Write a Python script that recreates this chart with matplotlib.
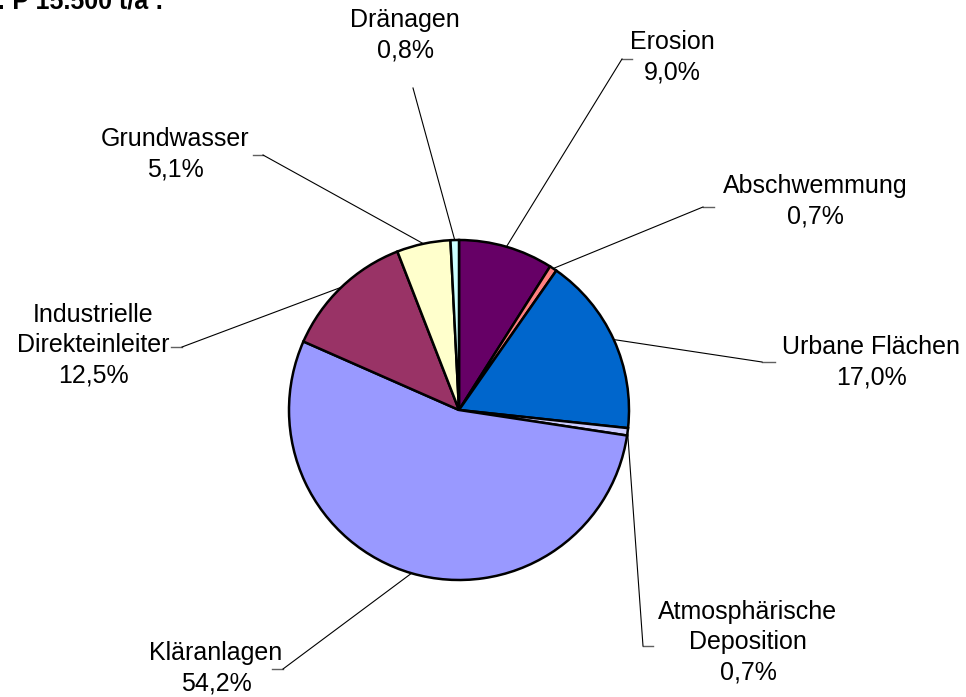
import matplotlib.pyplot as plt
import numpy as np

plt.rcParams['font.family'] = ['Liberation Sans', 'DejaVu Sans']

W, H = 966, 697

labels = ['Erosion', 'Abschwemmung', 'Urbane Flächen', 'Atmosphärische\nDeposition',
          'Kläranlagen', 'Industrielle\nDirekteinleiter', 'Grundwasser', 'Dränagen']
values = [9.0, 0.7, 17.0, 0.7, 54.2, 12.5, 5.1, 0.8]
colors = ['#660066', '#FF8080', '#0066CC', '#CCCCFF', '#9999FF', '#993366', '#FFFFCC', '#CCFFFF']

# label text centres (pixels, y from top)
text_pos = [(672, 57), (815, 201), (871, 362), (748, 642),
            (216, 668), (93, 345), (175, 154), (405, 35)]
# leader start points: (x_outer, x_inner, y) -> short horizontal tick then line to wedge
leader = [(632, 622, 59), (714, 703, 207), (775, 762, 362), (653, 643, 646),
          (272, 283, 669), (171, 182, 347), (253, 263, 155), (413, 413, 88)]

cx, cy, r = 459, 410, 170


def fy(y):
    return H - y


fig = plt.figure(figsize=(W / 100, H / 100), dpi=100)
ax = fig.add_axes([0, 0, 1, 1])

wedges, _ = ax.pie(values, colors=colors, startangle=90, counterclock=False,
                   center=(cx, fy(cy)), radius=r, frame=True,
                   wedgeprops=dict(edgecolor='black', linewidth=1.8))

for w, lab, v, (tx, ty), (x0, x1, ly) in zip(wedges, labels, values, text_pos, leader):
    mid = np.deg2rad((w.theta1 + w.theta2) / 2)
    ex = cx + r * np.cos(mid)
    ey = fy(cy) + r * np.sin(mid)
    if x0 != x1:
        ax.plot([x0, x1], [fy(ly), fy(ly)], color='#606060', lw=1.0)
    ax.plot([x1, ex], [fy(ly), ey], color='black', lw=0.8)
    txt = lab + '\n' + ('%.1f' % v).replace('.', ',') + '%'
    ax.text(tx, fy(ty), txt, ha='center', va='center', fontsize=18,
            linespacing=1.34, color='black')

ax.text(163, fy(9), 'Eintrag ges.: P 15.500 t/a :', ha='right', va='baseline',
        fontsize=18, fontweight='bold')

ax.set_xlim(0, W)
ax.set_ylim(0, H)
ax.set_aspect('equal')
ax.axis('off')

fig.savefig('out.png', dpi=100)
